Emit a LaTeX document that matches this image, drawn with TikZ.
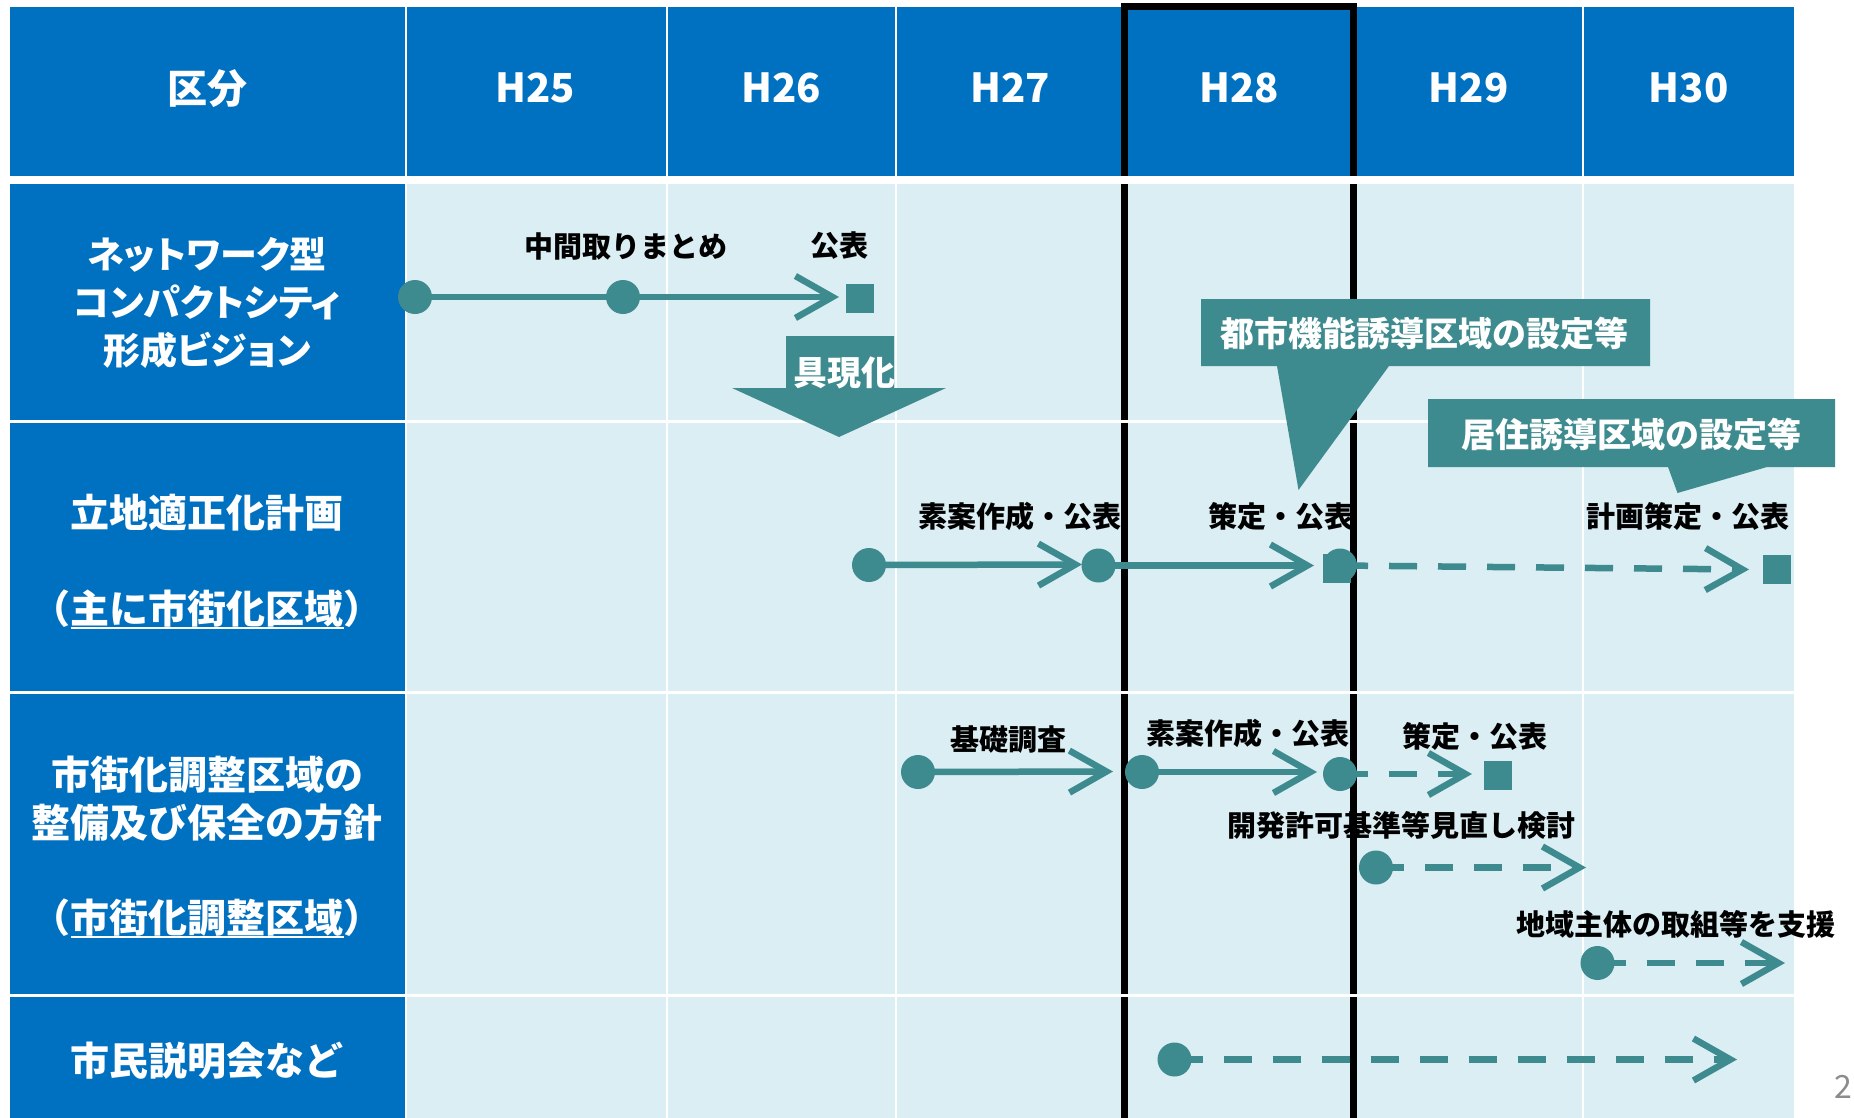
\documentclass[tikz,border=0pt]{standalone}
\usepackage{fontspec}
\setmainfont{Noto Sans CJK JP}
\newfontfamily\jpp{Noto Sans CJK JP}[RawFeature=+palt]
\usetikzlibrary{arrows.meta}
\definecolor{hblue}{HTML}{0070C0}
\definecolor{cellbg}{HTML}{DAEEF3}
\definecolor{tl}{HTML}{3E8B8F}
\newcommand\ulx[1]{\setbox0\hbox{#1}\rlap{\raisebox{-6pt}[0pt][0pt]{\rule{\wd0}{2pt}}}\box0}
\begin{document}
\begin{tikzpicture}[x=1pt,y=-1pt,
  hd/.style={text=white,font=\bfseries\fontsize{40}{48}\selectfont,inner sep=0},
  side/.style={text=white,align=center,font=\bfseries\fontsize{39}{48}\selectfont,inner sep=0},
  lbl/.style={text=black,font=\bfseries\fontsize{29}{34}\selectfont,inner sep=0},
  ctx/.style={text=white,font=\bfseries\fontsize{34}{40}\selectfont,inner sep=0},
  dot/.style={circle,fill=tl,minimum size=34pt,inner sep=0},
  sq/.style={fill=tl,minimum width=28pt,minimum height=29pt,inner sep=0},
  ln/.style={draw=tl,line width=6.5pt},
  arr/.style={ln,-{Straight Barb[length=37pt,width=42pt]}},
  dsh/.style={arr,dash pattern=on 28pt off 21pt}]
\useasboundingbox (0,0) rectangle (1854,1118);
\fill[white] (0,0) rectangle (1854,1118);
% header
\foreach \xa/\xb in {9.5/404.5,406.5/665.5,667.5/894.5,896.5/1123,1125/1353,1355/1582,1584/1794}
  \fill[hblue] (\xa,7) rectangle (\xb,176);
% body left column
\foreach \ya/\yb in {184/420,423/691,694/994,997/1125}
  \fill[hblue] (9.5,\ya) rectangle (404.5,\yb);
% body cells
\foreach \xa/\xb in {406.5/665.5,667.5/894.5,896.5/1123,1125/1353,1355/1582,1584/1794}
  \foreach \ya/\yb in {184/420,423/691,694/994,997/1125}
    \fill[cellbg] (\xa,\ya) rectangle (\xb,\yb);
% H28 frame
\draw[line width=7pt,line join=miter] (1124.5,1125) -- (1124.5,6.5) -- (1353.5,6.5) -- (1353.5,1125);
\foreach \ya/\yb in {176/184,420/423,691/694,994/997}
  \fill[white] (1115,\ya) rectangle (1365,\yb);
% header texts
\node[hd] (h0) at (207,89) {区分};
\node[hd] (h25) at (535.5,87.5) {H25};
\node[hd] (h26) at (781,87.5) {H26};
\node[hd] (h27) at (1010,87.5) {H27};
\node[hd] (h28) at (1239,87.5) {H28};
\node[hd] (h29) at (1468.5,87.5) {H29};
\node[hd] (h30) at (1688.5,87.5) {H30};
% side texts
\node[side,font=\jpp\bfseries\fontsize{37}{48}\selectfont] (s1) at (207,303) {ネットワーク型\\コンパクトシティ\\形成ビジョン};
\node[side] (s2) at (207,560.5) {立地適正化計画\\[48pt]（\ulx{主に市街化区域}）};
\node[side] (s3) at (207,846) {市街化調整区域の\\整備及び保全の方針\\[47pt]（\ulx{市街化調整区域}）};
\node[side] (s4) at (207,1061) {市民説明会など};
% row 1
\node[dot] (a1) at (415,297) {};
\node[dot] (a2) at (623,297) {};
\node[sq] (a3) at (859.5,298.5) {};
\coordinate (a2t) at (839,297);
\draw[ln] (a1.center) -- (a2.center);
\draw[arr] (a2.center) -- (a2t);
\node[lbl] (la1) at (626,246) {中間取りまとめ};
\node[lbl] (la2) at (839.5,246) {公表};
% 具現化
\fill[tl] (786,336) -- (894,336) -- (894,388) -- (946,388) -- (839,437) -- (732,388) -- (786,388) -- cycle;
\node[ctx] (gk) at (844,373) {具現化};
% row 2
\node[dot] (b1) at (869,565) {};
\node[dot] (b2) at (1098.5,565.5) {};
\node[sq] (b3s) at (1337,568) {};
\node[dot] (b3) at (1340,565.5) {};
\node[sq] (b4) at (1777,569.5) {};
\coordinate (b1t) at (1082,564.5);
\coordinate (b2t) at (1314,565.5);
\coordinate (b3t) at (1749,569.5);
\draw[arr] (b1.center) -- (b1t);
\draw[arr] (b2.center) -- (b2t);
\draw[dsh] (b3.center) -- (b3t);
\node[lbl] (lb1) at (1020,516) {素案作成・公表};
\node[lbl] (lb2) at (1281,516) {策定・公表};
\node[lbl] (lb3) at (1688,516) {計画策定・公表};
% row 3
\node[dot] (c1) at (918,772) {};
\node[dot] (c2) at (1142,772) {};
\node[dot] (c3) at (1340,774) {};
\node[sq] (c4) at (1498,775.5) {};
\coordinate (c1t) at (1113,771.5);
\coordinate (c2t) at (1317,772);
\coordinate (c3t) at (1472,774);
\draw[arr] (c1.center) -- (c1t);
\draw[arr] (c2.center) -- (c2t);
\draw[dsh] (c3.center) -- (c3t);
\node[lbl] (lc1) at (1008,740) {基礎調査};
\node[lbl] (lc2) at (1247.5,733) {素案作成・公表};
\node[lbl] (lc3) at (1474.5,736) {策定・公表};
\node[dot] (c5) at (1376,867.5) {};
\coordinate (c5t) at (1586,867.5);
\draw[dsh] (c5.center) -- (c5t);
\node[lbl] (lc5) at (1401,825) {開発許可基準等見直し検討};
\node[dot] (c6) at (1597.5,963) {};
\coordinate (c6t) at (1785,963);
\draw[dsh] (c6.center) -- (c6t);
\node[lbl] (lc6) at (1675.5,924.5) {地域主体の取組等を支援};
% row 4
\node[dot] (d1) at (1174.5,1059.5) {};
\coordinate (d1t) at (1737,1059.5);
\draw[dsh] (d1.center) -- (d1t);
% callouts
\fill[tl] (1201,299) -- (1650,299) -- (1650,366) -- (1389,366) -- (1298.5,490) -- (1277,366) -- (1201,366) -- cycle;
\node[ctx] (co1) at (1424,334) {都市機能誘導区域の設定等};
\fill[tl] (1428,399) -- (1835,399) -- (1835,467) -- (1767,467) -- (1677.5,493) -- (1668,467) -- (1428,467) -- cycle;
\node[ctx] (co2) at (1631,435) {居住誘導区域の設定等};
% page number
\node[anchor=west,text=black!45,font=\fontsize{32}{36}\selectfont,inner sep=0] (pg) at (1834,1087) {2};
\end{tikzpicture}
\end{document}
